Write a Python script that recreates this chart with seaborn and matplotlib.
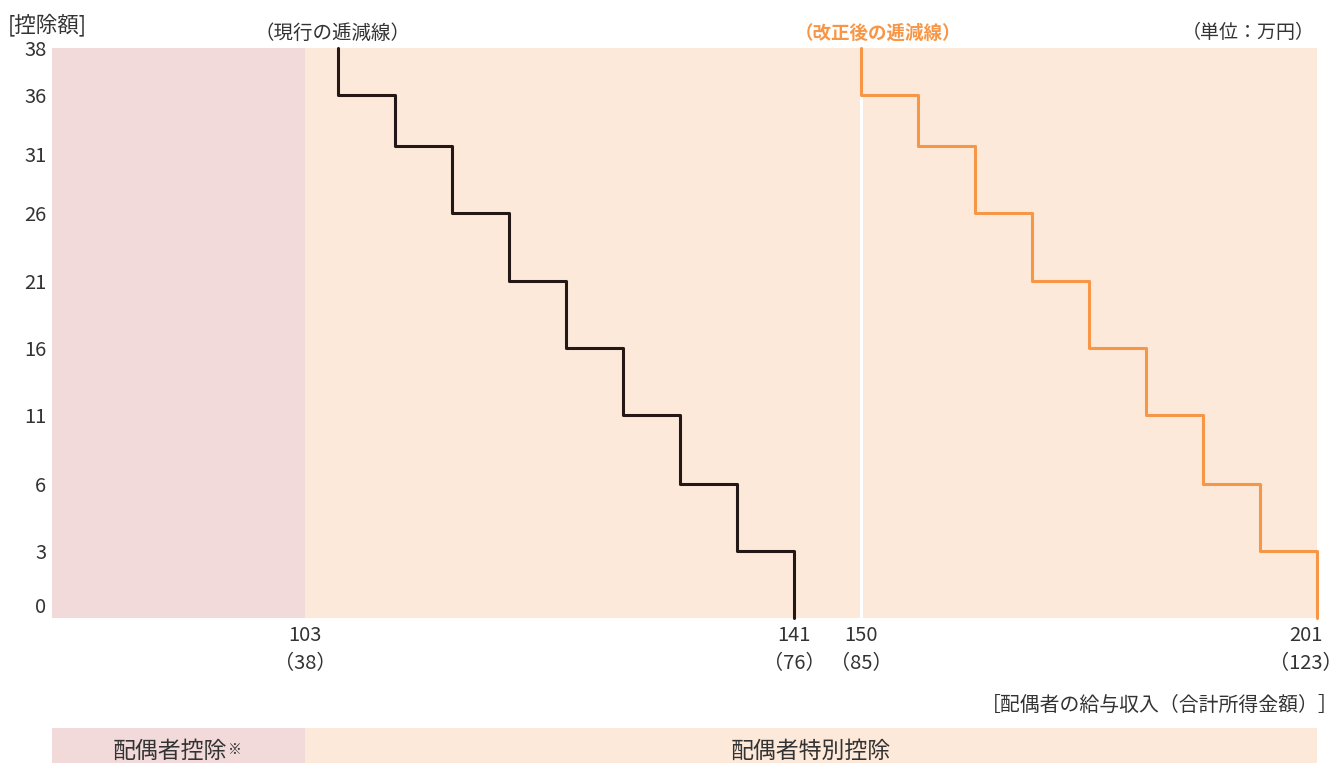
import numpy as np
import matplotlib
matplotlib.use('Agg')
import matplotlib.pyplot as plt
import matplotlib.transforms as mtransforms
import seaborn as sns

# データ
current_steps = [105, 110, 115, 120, 125, 130, 135, 140, 141]
revised_steps = [150, 155, 160, 166.8, 175.2, 183.2, 190.4, 197.2, 201]
deduction_levels = [38, 36, 31, 26, 21, 16, 11, 6, 3, 0]
x_ticks = [103, 141, 150, 201]
x_tick_income = [38, 76, 85, 123]
y_ticks = [38, 36, 31, 26, 21, 16, 11, 6, 3, 0]

# 模式図なので軸は区間ごとに等間隔 (値 -> 表示位置)
XV = [0, 103, 105, 110, 115, 120, 125, 130, 135, 140, 141,
      150, 155, 160, 166.8, 175.2, 183.2, 190.4, 197.2, 201]
XP = [0, 253, 286, 343, 400, 457, 514, 571, 628, 685, 742,
      809, 866, 923, 980, 1037, 1094, 1151, 1208, 1265]
YV = [0, 3, 6, 11, 16, 21, 26, 31, 36, 38]
YP = [0, 67, 134, 203, 270, 337, 405, 472, 523, 570]

PINK = '#f2dada'
PEACH = '#fde9d9'
ORANGE = '#f79646'
DARK = '#231815'
TEXT = '#333333'

sns.set_style('white')
plt.rcParams['font.family'] = ['Noto Sans CJK JP', 'DejaVu Sans']

W, H = 1343, 763
fig = plt.figure(figsize=(W / 100, H / 100), dpi=100)
ax = fig.add_axes([52 / W, 1 - 618 / H, 1265 / W, 570 / H])


def fwd_x(v):
    return np.interp(v, XV, XP)


def x_scale(a):
    a.set_xscale('function', functions=(fwd_x, lambda p: np.interp(p, XP, XV)))
    a.set_xlim(0, 201)


def shift(t, dx=0, dy=0):
    t.set_transform(t.get_transform() +
                    mtransforms.ScaledTranslation(dx / 100, dy / 100, fig.dpi_scale_trans))


x_scale(ax)
ax.set_yscale('function', functions=(lambda v: np.interp(v, YV, YP),
                                     lambda p: np.interp(p, YP, YV)))
ax.set_ylim(0, 38)

# 背景
ax.axvspan(0, 103, color=PINK, lw=0, zorder=0)
ax.axvspan(103, 201, color=PEACH, lw=0, zorder=0)
ax.vlines(revised_steps[0], 0, deduction_levels[1], color='white', lw=2.2, zorder=1)


def step_path(steps):
    xs = np.repeat(steps, 2)
    ys = np.repeat(deduction_levels, 2)[1:-1]
    return xs, ys


xs, ys = step_path(current_steps)
sns.lineplot(x=xs, y=ys, estimator=None, sort=False, color=DARK, lw=2.2, ax=ax, zorder=3)
xs, ys = step_path(revised_steps)
sns.lineplot(x=xs, y=ys, estimator=None, sort=False, color=ORANGE, lw=2.2, ax=ax, zorder=3)
for ln in ax.lines:
    ln.set_clip_on(False)

ax.set_xticks(x_ticks)
ax.set_xticklabels([f'{a}\n（{b}）' for a, b in zip(x_ticks, x_tick_income)])
ax.set_yticks(y_ticks)
ax.set_yticklabels([str(v) for v in y_ticks])
ax.tick_params(axis='both', length=0, labelsize=14.5, labelcolor=TEXT)
ax.tick_params(axis='y', pad=4)
ax.tick_params(axis='x', pad=5)
for t in ax.get_xticklabels():
    t.set_linespacing(1.45)
# 目盛ラベルの微調整 (参照図の位置に合わせる)
shift(ax.get_xticklabels()[-1], dx=-11)
y_label_shift = {'31': -8, '0': 13}
for t in ax.get_yticklabels():
    dy = y_label_shift.get(t.get_text(), 0)
    if dy:
        shift(t, dy=dy)
ax.set_xlabel('')
ax.set_ylabel('')
sns.despine(ax=ax, left=True, bottom=True, top=True, right=True)

# 注記
fig.text(8 / W, 1 - 25 / H, '[控除額]', fontsize=15.5, color=TEXT, va='center', ha='left')
fig.text(332 / W, 1 - 33 / H, '（現行の逓減線）', fontsize=14, color=TEXT, va='center', ha='center')
fig.text(878 / W, 1 - 33 / H, '（改正後の逓減線）', fontsize=13.3, color=ORANGE,
         fontweight='bold', va='center', ha='center')
fig.text(1248 / W, 1 - 33 / H, '（単位：万円）', fontsize=13.7, color=TEXT, va='center', ha='center')
fig.text(1339 / W, 1 - 705 / H, '［配偶者の給与収入（合計所得金額）］', fontsize=14.3,
         color=TEXT, va='center', ha='right')

# 下の帯
band = fig.add_axes([52 / W, 0, 1265 / W, 35 / H])
x_scale(band)
band.set_ylim(0, 1)
band.axvspan(0, 103, color=PINK, lw=0)
band.axvspan(103, 201, color=PEACH, lw=0)
band.axis('off')
left_mid = fwd_x(103) / 2 / XP[-1]
right_mid = (fwd_x(103) + fwd_x(201)) / 2 / XP[-1]
t1 = band.text(left_mid - 0.007, 0.33, '配偶者控除', fontsize=16.5, color=TEXT,
               ha='center', va='center', transform=band.transAxes)
band.annotate('※', xy=(1, 1), xycoords=t1, xytext=(1, -2), textcoords='offset points',
              fontsize=10, color=TEXT, ha='left', va='top')
band.text(right_mid, 0.33, '配偶者特別控除', fontsize=16.5, color=TEXT, ha='center',
          va='center', transform=band.transAxes)

fig.savefig('out.png', dpi=100)
